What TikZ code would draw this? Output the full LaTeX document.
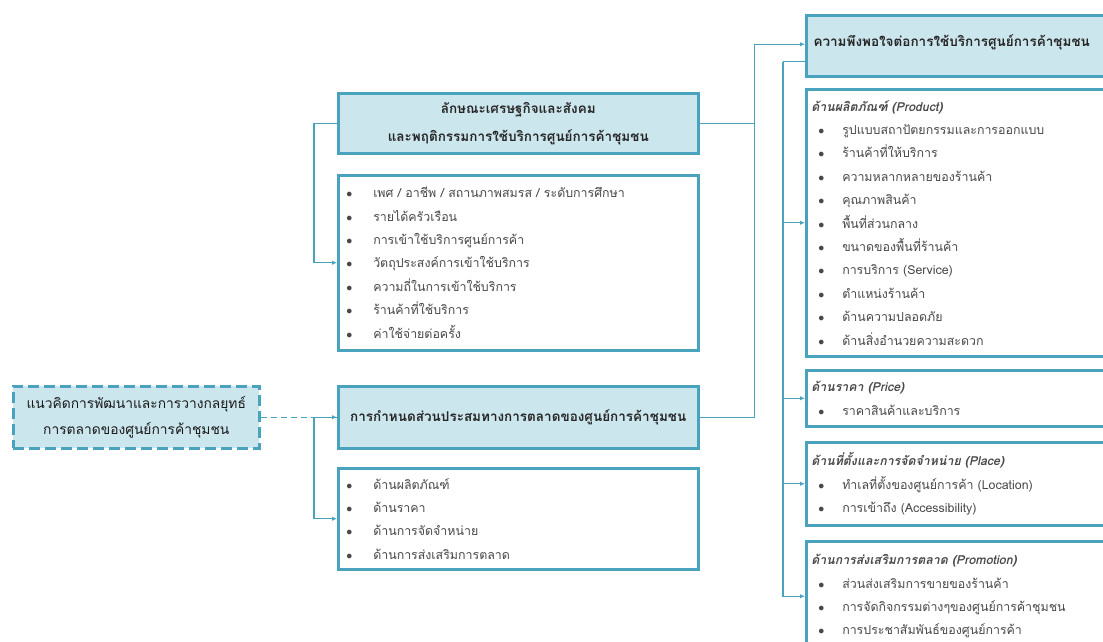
\documentclass[tikz,border=0pt]{standalone}
\usepackage{fontspec}
\newfontfamily\thai[Script=Thai]{Loma}
\usetikzlibrary{positioning,arrows.meta}

\definecolor{boxline}{RGB}{74,163,190}
\definecolor{boxfill}{RGB}{204,230,238}
\definecolor{txtgray}{RGB}{72,72,72}

\newcommand{\itm}[1]{\makebox[27pt][l]{$\bullet$}#1}
\newcommand{\ritm}[1]{\hspace{7pt}\makebox[24pt][l]{$\bullet$}#1}
\newcommand{\ttl}[1]{{\bfseries\itshape #1}}

\tikzset{
  hdr/.style={draw=boxline, line width=2.5pt, fill=boxfill, align=center,
    font=\thai\bfseries\fontsize{13.5}{28}\selectfont, text=black!85},
  idea/.style={draw=boxline, line width=2.5pt, fill=boxfill, align=center,
    dash pattern=on 11pt off 5pt, font=\thai\fontsize{13.8}{26}\selectfont, text=black!90},
  lst/.style={draw=boxline, line width=2.5pt, fill=white, align=left,
    inner xsep=8pt, text width=344pt, minimum width=360pt,
    font=\thai\fontsize{12.4}{23.4}\selectfont, text=txtgray},
  conn/.style={draw=boxline, line width=1.3pt, -{Latex[length=5pt,width=4.5pt]}},
  line/.style={draw=boxline, line width=1.3pt},
}

\begin{document}
\begin{tikzpicture}[x=1pt,y=-1pt]
    \useasboundingbox (0,0) rectangle (1103,641);

    % left
    \node [idea, minimum width=246pt, minimum height=62pt, anchor=north west] (idea) at (12,385)
        {แนวคิดการพัฒนาและการวางกลยุทธ์\\การตลาดของศูนย์การค้าชุมชน};

    % middle
    \node [hdr, minimum width=360pt, minimum height=60pt, anchor=north west] (social) at (337,92)
        {ลักษณะเศรษฐกิจและสังคม\\และพฤติกรรมการใช้บริการศูนย์การค้าชุมชน};
    \node [lst, minimum height=175pt, anchor=north west] (socitems) at (337,174)
        {\itm{เพศ / อาชีพ / สถานภาพสมรส / ระดับการศึกษา}\\
         \itm{รายได้ครัวเรือน}\\
         \itm{การเข้าใช้บริการศูนย์การค้า}\\
         \itm{วัตถุประสงค์การเข้าใช้บริการ}\\
         \itm{ความถี่ในการเข้าใช้บริการ}\\
         \itm{ร้านค้าที่ใช้บริการ}\\
         \itm{ค่าใช้จ่ายต่อครั้ง}};
    \node [hdr, minimum width=360pt, minimum height=62pt, anchor=north west] (mix) at (337,385)
        {การกำหนดส่วนประสมทางการตลาดของศูนย์การค้าชุมชน};
    \node [lst, minimum height=101pt, anchor=north west] (mixitems) at (337,467)
        {\itm{ด้านผลิตภัณฑ์}\\
         \itm{ด้านราคา}\\
         \itm{ด้านการจัดจำหน่าย}\\
         \itm{ด้านการส่งเสริมการตลาด}};

    % right
    \node [hdr, minimum width=310pt, minimum height=61pt, anchor=north west] (sat) at (805,14) {};
    \node [font=\thai\bfseries\fontsize{13.5}{16}\selectfont, text=black!85, anchor=west] (sattxt) at (810,42)
        {ความพึงพอใจต่อการใช้บริการศูนย์การค้าชุมชน};
    \node [lst, inner xsep=5pt, text width=300pt, minimum width=310pt, minimum height=267pt, anchor=north west] (prod) at (805,88)
        {\ttl{ด้านผลิตภัณฑ์ (Product)}\\
         \ritm{รูปแบบสถาปัตยกรรมและการออกแบบ}\\
         \ritm{ร้านค้าที่ให้บริการ}\\
         \ritm{ความหลากหลายของร้านค้า}\\
         \ritm{คุณภาพสินค้า}\\
         \ritm{พื้นที่ส่วนกลาง}\\
         \ritm{ขนาดของพื้นที่ร้านค้า}\\
         \ritm{การบริการ (Service)}\\
         \ritm{ตำแหน่งร้านค้า}\\
         \ritm{ด้านความปลอดภัย}\\
         \ritm{ด้านสิ่งอำนวยความสะดวก}};
    \node [lst, inner xsep=5pt, text width=300pt, minimum width=310pt, minimum height=56pt, anchor=north west] (price) at (805,369)
        {\ttl{ด้านราคา (Price)}\\
         \ritm{ราคาสินค้าและบริการ}};
    \node [lst, inner xsep=5pt, text width=300pt, minimum width=310pt, minimum height=83pt, anchor=north west] (place) at (805,441)
        {\ttl{ด้านที่ตั้งและการจัดจำหน่าย (Place)}\\
         \ritm{ทำเลที่ตั้งของศูนย์การค้า (Location)}\\
         \ritm{การเข้าถึง (Accessibility)}};
    \node [lst, inner xsep=5pt, text width=300pt, minimum width=310pt, minimum height=110pt, anchor=north west] (promo) at (805,540)
        {\ttl{ด้านการส่งเสริมการตลาด (Promotion)}\\
         \ritm{ส่วนส่งเสริมการขายของร้านค้า}\\
         \ritm{การจัดกิจกรรมต่างๆของศูนย์การค้าชุมชน}\\
         \ritm{การประชาสัมพันธ์ของศูนย์การค้า}};

    % connectors
    \draw [conn, dash pattern=on 6pt off 4pt] (idea.east) -- (mix.west);
    \draw [conn] (social.west) -- ++(-23,0) |- (socitems.west);
    \draw [conn] (mix.west) -- ++(-23,0) |- (mixitems.west);
    \draw [line] (social.east) -- ++(55,0);
    \draw [conn] (mix.east) -- ++(55,0) |- ([yshift=1.5pt]sat.west);
    \draw [line] ([yshift=-16pt]sat.west) -- ++(-22,0) coordinate (fork);
    \foreach \b in {prod,price,place,promo}
        \draw [conn] (fork) |- (\b.west);
\end{tikzpicture}
\end{document}
